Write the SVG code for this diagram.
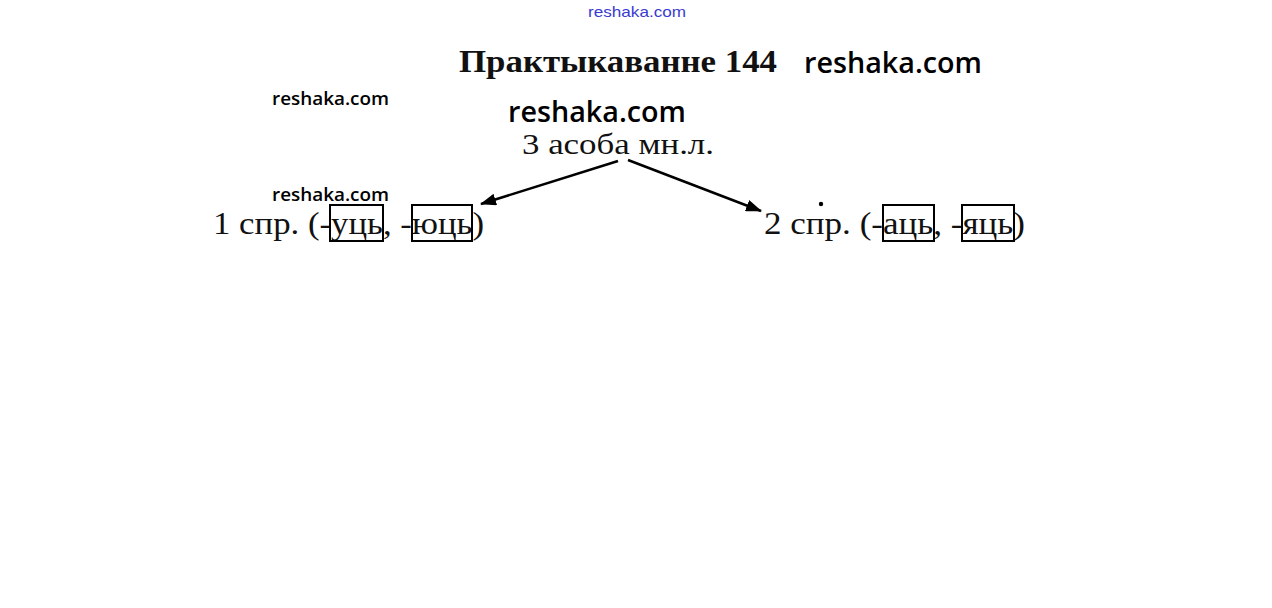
<svg xmlns="http://www.w3.org/2000/svg" width="1272" height="608" viewBox="0 0 1272 608">
<style>
.serif{font-family:"Liberation Serif","Times New Roman",serif;fill:#111}
.wm{font-family:"Open Sans",Lato,sans-serif;font-weight:600;fill:#000}
.box{fill:none;stroke:#000;stroke-width:2}
.conn{stroke:#000;stroke-width:2.5;fill:none}
</style>
<defs>
<marker id="ah" markerWidth="16" markerHeight="12" refX="15" refY="6" orient="auto" markerUnits="userSpaceOnUse" viewBox="0 0 16 12">
<path d="M0,0 L16,6 L0,12 Z" fill="#000"/>
</marker>
</defs>
<rect width="1272" height="608" fill="#fff"/>
<text x="637" y="17" text-anchor="middle" font-family="Liberation Sans,Arial,sans-serif" font-size="15" fill="#3a3ad0" textLength="98" lengthAdjust="spacingAndGlyphs">reshaka.com</text>
<g id="title">
<text class="serif" x="459" y="72" font-size="32" font-weight="bold" textLength="318" lengthAdjust="spacingAndGlyphs">Практыкаванне 144</text>
</g>
<text class="wm" x="804" y="73" font-size="29" textLength="178" lengthAdjust="spacingAndGlyphs">reshaka.com</text>
<text class="wm" x="272" y="105" font-size="18" textLength="117" lengthAdjust="spacingAndGlyphs">reshaka.com</text>
<text class="wm" x="508" y="122" font-size="28" textLength="178" lengthAdjust="spacingAndGlyphs">reshaka.com</text>
<text class="wm" x="272" y="201" font-size="18" textLength="117" lengthAdjust="spacingAndGlyphs">reshaka.com</text>
<g id="root">
<text class="serif" x="522" y="154" font-size="30" textLength="192" lengthAdjust="spacingAndGlyphs">3 асоба мн.л.</text>
</g>
<g id="conj1">
<text class="serif" x="213" y="234" font-size="32" textLength="271" lengthAdjust="spacingAndGlyphs">1 спр. (-уць, -юць)</text>
<rect class="box" x="330" y="205" width="53" height="36"/>
<rect class="box" x="412" y="205" width="60" height="36"/>
</g>
<g id="conj2">
<text class="serif" x="764" y="234" font-size="32" textLength="261" lengthAdjust="spacingAndGlyphs">2 спр. (-аць, -яць)</text>
<rect class="box" x="883" y="205" width="51" height="36"/>
<rect class="box" x="962" y="205" width="52" height="36"/>
<circle cx="821" cy="204" r="2.2" fill="#000"/>
</g>
<g id="connectors">
<line class="conn" x1="618" y1="161" x2="481" y2="204" marker-end="url(#ah)"/>
<line class="conn" x1="628" y1="160" x2="761" y2="211" marker-end="url(#ah)"/>
</g>
</svg>
